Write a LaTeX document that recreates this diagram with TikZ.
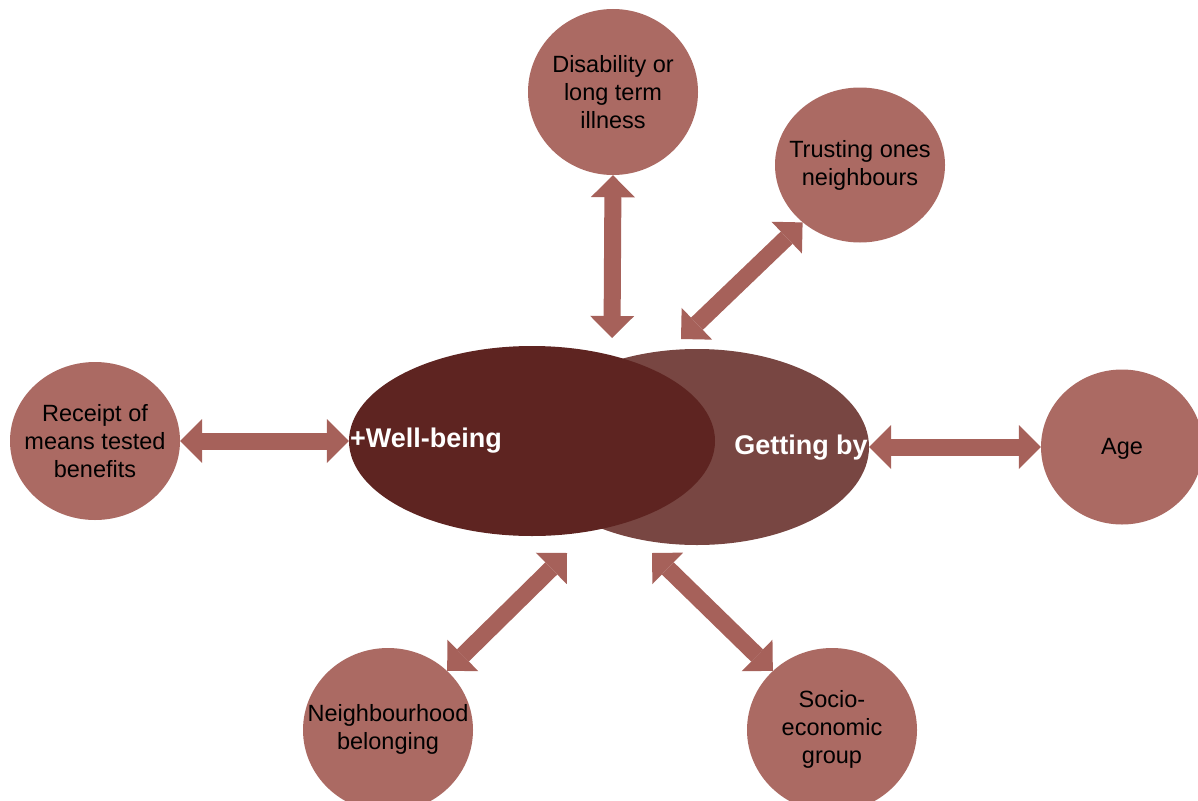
\documentclass[tikz,border=0pt]{standalone}
\usepackage{fontspec}
\setmainfont{Liberation Sans}
\usetikzlibrary{arrows.meta,shapes.geometric}

\definecolor{circfill}{HTML}{AB6A63}
\definecolor{arrowfill}{HTML}{A6615A}
\definecolor{wellfill}{HTML}{5E2421}
\definecolor{getfill}{HTML}{784642}

\tikzset{
  factor/.style={ellipse,fill=circfill,minimum width=170pt,minimum height=158pt,inner sep=0pt},
  factortext/.style={align=center,inner sep=0pt,font=\fontsize{23.5}{28}\selectfont},
  bigarrow/.style={color=arrowfill,line width=17pt,{Triangle[length=22pt,width=44pt,line width=0pt]}-{Triangle[length=22pt,width=44pt,line width=0pt]}},
  maintext/.style={text=white,inner sep=0pt,font=\fontsize{27}{32}\selectfont\bfseries}
}

\begin{document}
\begin{tikzpicture}[x=1pt,y=-1pt]
\useasboundingbox (0,0) rectangle (1198,800);

% the two ellipses in the middle
\node[ellipse,fill=getfill,minimum width=344pt,minimum height=196pt] (gb) at (697,447) {};
\node[ellipse,fill=wellfill,minimum width=366pt,minimum height=190pt] (wb) at (532,441) {};
\node[maintext] (wbtxt) at (426,441) {+Well-being};
\node[maintext] (gbtxt) at (801,448) {Getting by};

% factors round them
\node[factor,minimum height=166pt] (dis) at (613,92) {};
\node[factor,minimum height=155pt] (tr) at (860,165) {};
\node[factor,minimum width=162pt,minimum height=155pt] (age) at (1122,447) {};
\node[factor] (rc) at (95,441) {};
\node[factor,minimum height=164pt] (nb) at (388,730) {};
\node[factor,minimum height=164pt] (se) at (832,730) {};

\node[factortext] (distxt) at (dis.center) {Disability or\\long term\\illness};
\node[factortext] (trtxt) at (tr.center) {Trusting ones\\neighbours};
\node[factortext] (agetxt) at ([yshift=-2pt]age.center) {Age};
\node[factortext] (rctxt) at (rc.center) {Receipt of\\means tested\\benefits};
\node[factortext] (nbtxt) at ([yshift=1pt]nb.center) {Neighbourhood\\belonging};
\node[factortext] (setxt) at ([yshift=1pt]se.center) {Socio-\\economic\\group};

% free ends of the arrows
\coordinate (disin) at (612,338);
\coordinate (trin) at (681,339);
\coordinate (nbin) at (567,553);
\coordinate (sein) at (652,553);

\draw[bigarrow] (dis.south) -- (disin);
\draw[bigarrow] (tr.225) -- (trin);
\draw[bigarrow] (rc.east) -- (wb.west);
\draw[bigarrow] (gb.east) -- (age.west);
\draw[bigarrow] (nb.45) -- (nbin);
\draw[bigarrow] (se.135) -- (sein);
\end{tikzpicture}
\end{document}
